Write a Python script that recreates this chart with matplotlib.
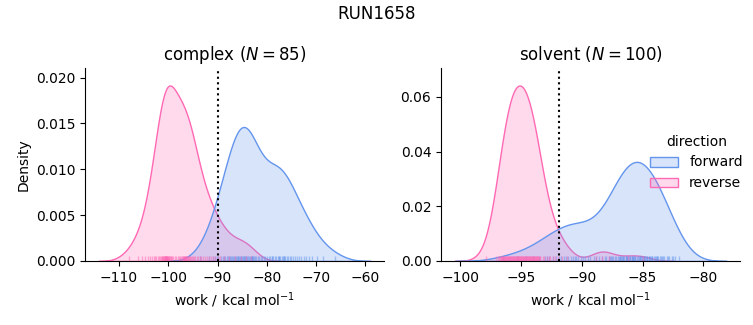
import numpy as np
import pandas as pd
import matplotlib
matplotlib.use("Agg")
import matplotlib.pyplot as plt
import seaborn as sns

"""work values read off the rug / kde shapes"""

complex_forward = [-93.5, -91.8, -91.0, -90.6, -90.2, -89.9, -89.2, -88.9, -88.7, -88.4,
                   -88.1, -87.9, -87.6, -87.4, -87.2, -87.0, -86.8, -86.6, -86.4, -86.3,
                   -86.1, -85.9, -85.8, -85.6, -85.5, -85.3, -85.2, -85.0, -84.9, -84.7,
                   -84.6, -84.5, -84.3, -84.2, -84.1, -83.9, -83.7, -83.5, -83.3, -83.1,
                   -83.0, -82.9, -82.7, -82.6, -82.4, -82.1, -81.8, -81.5, -81.2, -81.0,
                   -80.6, -80.3, -80.0, -79.6, -79.3, -79.0, -78.9, -78.7, -78.4, -78.1,
                   -77.8, -77.6, -77.5, -77.3, -77.0, -76.8, -76.6, -76.5, -76.2, -75.9,
                   -75.6, -75.3, -75.0, -74.6, -74.2, -73.8, -73.4, -73.0, -72.5, -72.0,
                   -71.4, -70.8, -69.8, -68.5, -66.2]
complex_reverse = [-108.0, -106.2, -105.3, -104.7, -104.2, -103.8, -103.4, -103.0, -102.7, -102.4,
                   -102.0, -101.8, -101.6, -101.45, -101.3, -101.2, -101.1, -101.0, -100.9, -100.8,
                   -100.75, -100.65, -100.6, -100.55, -100.5, -100.45, -100.4, -100.35, -100.25, -100.2,
                   -100.1, -100.0, -99.9, -99.8, -99.7, -99.55, -99.4, -99.2, -99.0, -98.6,
                   -98.4, -98.1, -97.85, -97.6, -97.4, -97.25, -97.1, -97.0, -96.9, -96.8,
                   -96.7, -96.6, -96.55, -96.45, -96.35, -96.25, -96.15, -96.0, -95.85, -95.7,
                   -95.5, -95.3, -95.1, -94.9, -94.8, -94.5, -94.2, -93.9, -93.6, -93.3,
                   -93.0, -92.6, -92.2, -91.8, -91.4, -91.0, -90.5, -90.0, -89.4, -88.6,
                   -87.6, -86.4, -85.2, -84.2, -83.2]
solvent_forward = [-96.5, -95.3, -94.6, -94.0, -93.5, -93.0, -92.9, -92.7, -92.4, -92.1,
                   -91.9, -91.7, -91.5, -91.3, -91.1, -90.9, -90.7, -90.6, -90.5, -90.3,
                   -90.1, -89.9, -89.7, -89.5, -89.3, -89.0, -88.8, -88.6, -88.3, -88.1,
                   -88.0, -87.8, -87.7, -87.6, -87.5, -87.4, -87.3, -87.2, -87.0, -86.95,
                   -86.9, -86.85, -86.8, -86.7, -86.65, -86.6, -86.5, -86.4, -86.35, -86.3,
                   -86.25, -86.2, -86.1, -86.05, -86.0, -85.9, -85.85, -85.8, -85.75, -85.7,
                   -85.65, -85.6, -85.5, -85.4, -85.3, -85.25, -85.2, -85.1, -85.05, -85.0,
                   -84.9, -84.85, -84.8, -84.7, -84.65, -84.6, -84.5, -84.45, -84.4, -84.3,
                   -84.25, -84.2, -84.1, -84.0, -83.9, -83.85, -83.8, -83.7, -83.6, -83.5,
                   -83.4, -83.3, -83.2, -83.0, -82.9, -82.8, -82.6, -82.5, -82.3, -82.0]
solvent_reverse = [-97.9, -97.09, -96.92, -96.84, -96.76, -96.68, -96.64, -96.59, -96.55, -96.51,
                   -96.47, -96.43, -96.39, -96.35, -96.31, -96.27, -96.23, -96.18, -96.14, -96.10,
                   -96.06, -96.02, -95.98, -95.94, -95.90, -95.86, -95.82, -95.77, -95.73, -95.69,
                   -95.65, -95.61, -95.57, -95.53, -95.49, -95.45, -95.41, -95.36, -95.32, -95.28,
                   -95.24, -95.22, -95.20, -95.16, -95.12, -95.08, -95.04, -95.00, -94.95, -94.91,
                   -94.87, -94.83, -94.79, -94.75, -94.71, -94.67, -94.63, -94.59, -94.54, -94.50,
                   -94.46, -94.42, -94.38, -94.34, -94.30, -94.26, -94.22, -94.17, -94.13, -94.09,
                   -94.05, -94.01, -93.97, -93.93, -93.89, -93.85, -93.81, -93.77, -93.72, -93.68,
                   -93.64, -93.60, -93.56, -93.48, -93.40, -93.23, -93.07, -92.90, -92.74, -92.58,
                   -92.41, -92.17, -91.92, -91.59, -91.18, -88.8, -88.3, -87.8, -86.2, -85.0]

phases = ["complex", "solvent"]
estimates = [-90.0, -91.9]       # dotted line per phase
colors = {"forward": "cornflowerblue", "reverse": "hotpink"}

"""long form frame for displot"""
parts = []
for phase, fwd, rev in [("complex", complex_forward, complex_reverse),
                        ("solvent", solvent_forward, solvent_reverse)]:
    parts.append(pd.DataFrame({"work": fwd, "phase": phase, "direction": "forward"}))
    parts.append(pd.DataFrame({"work": rev, "phase": phase, "direction": "reverse"}))
df = pd.concat(parts, ignore_index=True)

g = sns.displot(data=df, x="work", col="phase", hue="direction", kind="kde",
                fill=True, rug=True, palette=colors,
                rug_kws=dict(alpha=0.5, lw=0.8),
                facet_kws=dict(sharex=False, sharey=False))
g.figure.set_size_inches(7.53, 3.25)

for ax, phase, est in zip(g.axes.flat, phases, estimates):
    n = len(df[(df.phase == phase) & (df.direction == "forward")])
    ax.set_title(phase + r" ($N = %d$)" % n, fontsize=12)
    ax.axvline(est, color="black", ls=":", lw=1.5)
    ax.set_xlabel(r"work / kcal mol$^{-1}$")
g.axes.flat[0].set_ylabel("Density")
g.axes.flat[1].set_ylabel("")

g.figure.suptitle("RUN1658", fontsize=12, y=0.985)
g.figure.subplots_adjust(left=0.113, right=0.983, bottom=0.197, top=0.791, wspace=0.19)
sns.move_legend(g, "center right", bbox_to_anchor=(1.003, 0.5), frameon=False)

plt.savefig("out.png", dpi=100)
